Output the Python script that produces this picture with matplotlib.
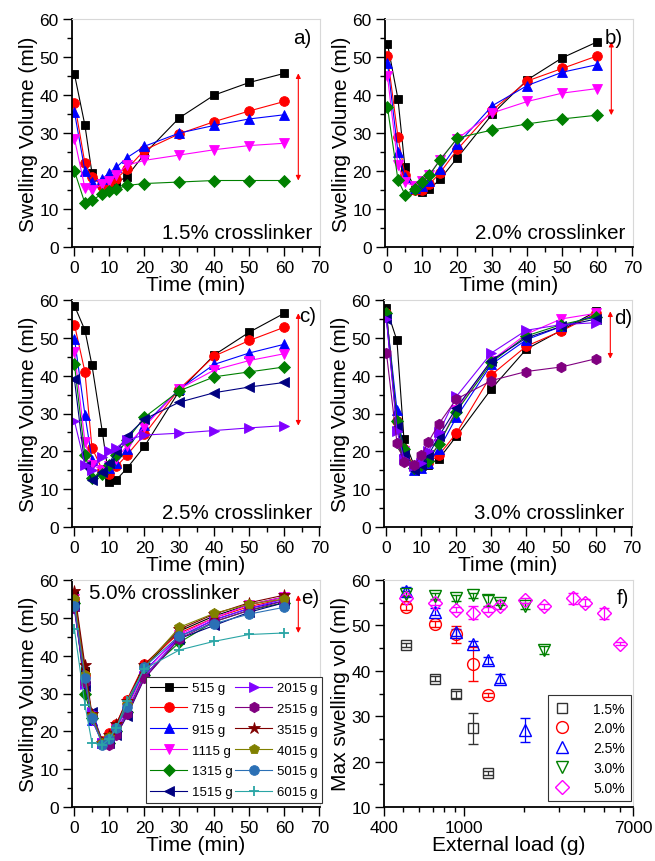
import matplotlib
matplotlib.use("Agg")
import matplotlib.pyplot as plt
from matplotlib.ticker import MultipleLocator, FixedLocator, NullFormatter, FixedFormatter

plt.rcParams['font.family'] = ['Liberation Sans', 'DejaVu Sans']

time = [0, 3, 5, 8, 10, 12, 15, 20, 30, 40, 50, 60]

# panel a: 1.5 %
a_515 = [45.5, 32, 19.5, 16.5, 16, 17, 18.5, 24.5, 34, 40, 43.3, 45.7]
a_715 = [38, 22, 18.5, 16, 17, 18, 20.5, 25.5, 29.8, 33, 35.8, 38.3]
a_915 = [35.5, 20, 17, 18, 19.5, 21, 23.5, 26.5, 30, 32, 33.7, 34.8]
a_1115 = [28.5, 15.5, 15, 16.5, 17.5, 19, 21.5, 22.8, 24.2, 25.6, 26.7, 27.3]
a_1315 = [20, 11.5, 12.3, 14, 14.7, 15.3, 16.2, 16.7, 17.1, 17.5, 17.5, 17.5]

# panel b: 2.0 %
b_515 = [53.5, 39, 21, 15, 14.5, 15.2, 17.8, 23.5, 35, 44, 49.8, 54]
b_715 = [50.3, 29, 19, 15, 15, 16.5, 19.5, 25.7, 36, 43.7, 47, 50.3]
b_915 = [48.5, 25, 18.5, 15.5, 16, 17.5, 20.5, 27, 37.2, 42.5, 46, 48]
b_1115 = [45, 21.5, 17, 16, 17.5, 19, 23, 28.5, 35.3, 38.3, 40.5, 41.7]
b_1315 = [36.8, 17.7, 13.8, 15.3, 17, 19, 22.8, 28.7, 30.8, 32.4, 33.7, 34.7]

# panel c: 2.5 %
c_515 = [58.5, 52, 42.8, 25, 12, 12.5, 15.5, 21.3, 36, 45.5, 51.5, 56.5]
c_715 = [53.5, 41, 21, 15, 14, 16, 19, 24.5, 36.5, 45.2, 49.3, 52.8]
c_915 = [49.8, 29.7, 17.8, 15, 15.5, 17, 20.5, 27, 36.5, 43, 46, 48.3]
c_1115 = [46.3, 22.5, 16.5, 15, 16, 18, 21.5, 26.5, 36.5, 41.5, 44, 45.8]
c_1315 = [43, 19, 13, 14, 16.5, 19, 23, 29, 36, 39.7, 41, 42.3]
c_1515 = [39, 16, 12.5, 14.5, 17, 20, 24, 28.5, 33, 35.5, 37, 38.2]
c_2015 = [28, 16.5, 15, 18.5, 20, 21, 23, 24.3, 24.8, 25.5, 26.2, 26.8]

# panel d: 3.0 %
d_515 = [57.8, 49.3, 23.3, 16, 15.5, 16.5, 18, 24, 36.5, 47, 52, 57]
d_715 = [56.5, 28, 20.5, 16, 16, 17, 19, 24.8, 40.2, 47.8, 51.8, 56.5]
d_915 = [56, 31, 20, 15, 15.5, 17, 20.5, 29, 43, 49.5, 53, 56]
d_1115 = [55.5, 27, 20, 15.5, 16, 18, 22, 31, 44, 51, 55, 56.5]
d_1315 = [56.5, 28, 20.5, 15.5, 16.5, 17.5, 22, 30.5, 43.5, 50.5, 53.5, 55.5]
d_1515 = [55, 26.5, 19, 15, 16.5, 19, 24, 31.5, 44, 50, 53, 55]
d_2015 = [55, 25.5, 18, 16, 17, 20, 25, 34.5, 46, 52, 53.5, 54]
d_2515 = [46, 22.3, 17.3, 16.5, 19, 22.5, 27.3, 33.8, 38.7, 41.1, 42.3, 44.5]

# panel e: 5.0 %
e_515 = [56, 36, 24, 17, 18.5, 21.5, 27.5, 37, 46.5, 50.5, 53.5, 55.5]
e_715 = [55, 35, 24, 17.5, 19.5, 22, 28.3, 37.8, 46, 50, 53, 55]
e_915 = [54, 33, 23, 17, 18, 21, 26.5, 36, 45, 49.5, 52.5, 54.5]
e_1115 = [55, 33, 23, 17, 17.5, 20.5, 26, 35.5, 45.5, 50, 53.5, 55.5]
e_1315 = [54, 30, 23.5, 17, 17, 20, 25, 35, 43.5, 49, 52, 54]
e_1515 = [53, 32, 25, 17.5, 17, 19, 24, 34, 44.5, 48, 51.5, 54]
e_2015 = [52, 32.5, 25, 17, 17.5, 20, 25, 34.5, 45, 49.5, 52.5, 55]
e_2515 = [52.5, 33, 24, 17, 16.5, 19, 24.5, 34, 44.5, 49, 52, 54.5]
e_3515 = [57, 37.5, 24.5, 17, 19, 22, 28, 37.5, 47, 51, 54, 56]
e_4015 = [55, 35, 24, 17, 18.5, 21, 27, 37, 47.5, 51.2, 53.6, 55]
e_5015 = [53, 34, 23.5, 16.5, 18, 21, 26.5, 37, 45.3, 48.5, 51, 52.8]
e_6015 = [47, 27, 17, 16.5, 18, 21, 28, 36.5, 41.5, 43.8, 45.6, 46]

load_labels = ['515 g', '715 g', '915 g', '1115 g', '1315 g', '1515 g',
               '2015 g', '2515 g', '3515 g', '4015 g', '5015 g', '6015 g']

# panel f: max swelling volume vs external load
f_load_15 = [515, 715, 915, 1115, 1315]
f_val_15 = [45.7, 38.3, 34.8, 27.3, 17.5]
f_err_15 = [0.5, 0.5, 0.7, 3.4, 0.5]
f_load_20 = [515, 715, 915, 1115, 1315]
f_val_20 = [54, 50.3, 48, 41.5, 34.7]
f_err_20 = [0.7, 0.7, 1.8, 3.7, 0.5]
f_load_25 = [515, 715, 915, 1115, 1315, 1515, 2015]
f_val_25 = [57.5, 53, 48.5, 46, 42.3, 38.3, 27]
f_err_25 = [1.0, 0.8, 0.8, 0.5, 0.8, 1.0, 2.7]
f_load_30 = [515, 715, 915, 1115, 1315, 1515, 2015, 2515]
f_val_30 = [57, 56.5, 56, 56.6, 55.5, 55, 54.3, 44.6]
f_err_30 = [0.5, 0.6, 0.6, 0.5, 1.3, 0.6, 0.6, 0.8]
f_load_50 = [515, 715, 915, 1115, 1315, 1515, 2015, 2515, 3515, 4015, 5015, 6015]
f_val_50 = [56, 55, 53.5, 52.8, 53.5, 54.3, 55.5, 54.2, 56, 55, 52.7, 46]
f_err_50 = [0.6, 0.6, 0.6, 1.5, 0.6, 0.6, 0.6, 0.5, 1.2, 0.8, 1.2, 0.4]
f_labels = ['1.5%', '2.0%', '2.5%', '3.0%', '5.0%']

styles = [  # color, marker, size
    ('#000000', 's', 6.0),
    ('#ff0000', 'o', 7.0),
    ('#0000ff', '^', 7.5),
    ('#ff00ff', 'v', 7.5),
    ('#008000', 'D', 6.0),
    ('#000080', '<', 7.5),
    ('#8000ff', '>', 7.5),
    ('#800080', 'h', 7.5),
    ('#800000', '*', 9.0),
    ('#808000', 'p', 7.5),
    ('#2b70b5', 'o', 7.0),
    ('#2aa5a5', '+', 7.0),
]

fig = plt.figure(figsize=(6.55, 8.62), dpi=100)
W, H = 655.0, 862.0


def make_ax(l, r, t, b):
    return fig.add_axes([l / W, 1 - b / H, (r - l) / W, (b - t) / H])


ax_a = make_ax(72, 320, 20, 248)
ax_b = make_ax(385, 633, 20, 248)
ax_c = make_ax(72, 320, 301, 528)
ax_d = make_ax(384, 632, 301, 528)
ax_e = make_ax(72, 320, 581, 808)
ax_f = make_ax(384, 633, 581, 808)

TICK_FS = 12.5
LABEL_FS = 15
TEXT_FS = 14.8


def style_axes(ax):
    for s in ['left', 'bottom']:
        ax.spines[s].set_linewidth(1.3)
        ax.spines[s].set_color('black')
    for s in ['top', 'right']:
        ax.spines[s].set_linewidth(0.8)
        ax.spines[s].set_color('#d8d8d8')
    ax.tick_params(which='major', direction='out', length=6.5, width=1.0,
                   labelsize=TICK_FS, top=False, right=False, pad=3)
    ax.tick_params(which='minor', direction='out', length=3.5, width=1.0,
                   top=False, right=False)


def time_panel(ax, series):
    lines = []
    for i, ys in enumerate(series):
        c, m, ms = styles[i]
        ln, = ax.plot(time, ys, color=c, marker=m, markersize=ms, lw=0.8,
                      markerfacecolor=c, markeredgecolor=c,
                      markeredgewidth=1.3 if m == '+' else 0.6,
                      label=load_labels[i])
        lines.append(ln)
    ax.set_xlim(-0.7, 70.2)
    ax.set_ylim(0, 60)
    ax.xaxis.set_major_locator(MultipleLocator(10))
    ax.xaxis.set_minor_locator(MultipleLocator(5))
    ax.yaxis.set_major_locator(MultipleLocator(10))
    ax.yaxis.set_minor_locator(MultipleLocator(5))
    ax.set_xlabel('Time (min)', fontsize=LABEL_FS, labelpad=0)
    ax.set_ylabel('Swelling Volume (ml)', fontsize=LABEL_FS, labelpad=1)
    style_axes(ax)
    last = [s[-1] for s in series]
    ax.annotate('', xy=(64, min(last)), xytext=(64, max(last)),
                arrowprops=dict(arrowstyle='<|-|>', color='red', lw=0.8,
                                mutation_scale=7, shrinkA=0, shrinkB=0))
    return lines


time_panel(ax_a, [a_515, a_715, a_915, a_1115, a_1315])
ax_a.text(0.965, 0.96, 'a)', transform=ax_a.transAxes, ha='right', va='top', fontsize=TEXT_FS)
ax_a.text(0.97, 0.02, '1.5% crosslinker', transform=ax_a.transAxes, ha='right', va='bottom', fontsize=TEXT_FS)

time_panel(ax_b, [b_515, b_715, b_915, b_1115, b_1315])
ax_b.text(0.96, 0.96, 'b)', transform=ax_b.transAxes, ha='right', va='top', fontsize=TEXT_FS)
ax_b.text(0.97, 0.02, '2.0% crosslinker', transform=ax_b.transAxes, ha='right', va='bottom', fontsize=TEXT_FS)

time_panel(ax_c, [c_515, c_715, c_915, c_1115, c_1315, c_1515, c_2015])
ax_c.text(0.985, 0.975, 'c)', transform=ax_c.transAxes, ha='right', va='top', fontsize=TEXT_FS)
ax_c.text(0.97, 0.02, '2.5% crosslinker', transform=ax_c.transAxes, ha='right', va='bottom', fontsize=TEXT_FS)

time_panel(ax_d, [d_515, d_715, d_915, d_1115, d_1315, d_1515, d_2015, d_2515])
ax_d.text(1.0, 0.965, 'd)', transform=ax_d.transAxes, ha='right', va='top', fontsize=TEXT_FS)
ax_d.text(0.97, 0.02, '3.0% crosslinker', transform=ax_d.transAxes, ha='right', va='bottom', fontsize=TEXT_FS)

e_lines = time_panel(ax_e, [e_515, e_715, e_915, e_1115, e_1315, e_1515, e_2015,
                            e_2515, e_3515, e_4015, e_5015, e_6015])
ax_e.text(0.07, 0.985, '5.0% crosslinker', transform=ax_e.transAxes, ha='left', va='top', fontsize=TEXT_FS)
ax_e.text(0.995, 0.925, 'e)', transform=ax_e.transAxes, ha='right', va='center', fontsize=TEXT_FS)

leg_e = ax_e.legend(handles=e_lines, ncol=2, loc='lower right',
                    bbox_to_anchor=(1.008, 0.018), fontsize=9.5, frameon=True,
                    fancybox=False, framealpha=1, edgecolor='#333333',
                    handlelength=2.8, handletextpad=0.35, columnspacing=0.2,
                    labelspacing=0.65, borderpad=0.35, borderaxespad=0)
leg_e.get_frame().set_linewidth(0.8)
for t in leg_e.get_texts():
    t.set_ha('right')
leg_e._legend_box.align = 'right'

# panel f
f_sets = [(f_load_15, f_val_15, f_err_15, '#333333', 's', 6.5),
          (f_load_20, f_val_20, f_err_20, '#ff0000', 'o', 8.5),
          (f_load_25, f_val_25, f_err_25, '#0000ff', '^', 8.5),
          (f_load_30, f_val_30, f_err_30, '#008000', 'v', 8.5),
          (f_load_50, f_val_50, f_err_50, '#ff00ff', 'D', 7.0)]
f_handles = []
for (xs, ys, es, c, m, ms), lab in zip(f_sets, f_labels):
    eb = ax_f.errorbar(xs, ys, yerr=es, fmt=m, color=c, markersize=ms,
                       markerfacecolor='none', markeredgecolor=c,
                       markeredgewidth=1.0, ecolor=c, elinewidth=0.9,
                       capsize=3.5, capthick=0.9, label=lab)
    f_handles.append(eb[0])
ax_f.set_xscale('log')
ax_f.set_xlim(400, 7000)
ax_f.set_ylim(10, 60)
ax_f.xaxis.set_major_locator(FixedLocator([400, 1000, 7000]))
ax_f.xaxis.set_minor_locator(FixedLocator([500, 600, 700, 800, 900, 2000, 3000, 4000, 5000, 6000]))
ax_f.xaxis.set_major_formatter(FixedFormatter(['400', '1000', '7000']))
ax_f.xaxis.set_minor_formatter(NullFormatter())
ax_f.yaxis.set_major_locator(MultipleLocator(10))
ax_f.yaxis.set_minor_locator(MultipleLocator(5))
ax_f.set_xlabel('External load (g)', fontsize=LABEL_FS, labelpad=0)
ax_f.set_ylabel('Max swelling vol (ml)', fontsize=LABEL_FS, labelpad=1)
style_axes(ax_f)
ax_f.text(0.985, 0.965, 'f)', transform=ax_f.transAxes, ha='right', va='top', fontsize=TEXT_FS)
leg_f = ax_f.legend(handles=f_handles, labels=f_labels, loc='lower right',
                    bbox_to_anchor=(0.992, 0.026), fontsize=10, frameon=True,
                    fancybox=False, framealpha=1, edgecolor='#333333',
                    handlelength=1.2, handletextpad=1.6, labelspacing=0.42,
                    borderpad=0.45, borderaxespad=0)
leg_f.get_frame().set_linewidth(0.8)

fig.savefig('out.png', dpi=100)
